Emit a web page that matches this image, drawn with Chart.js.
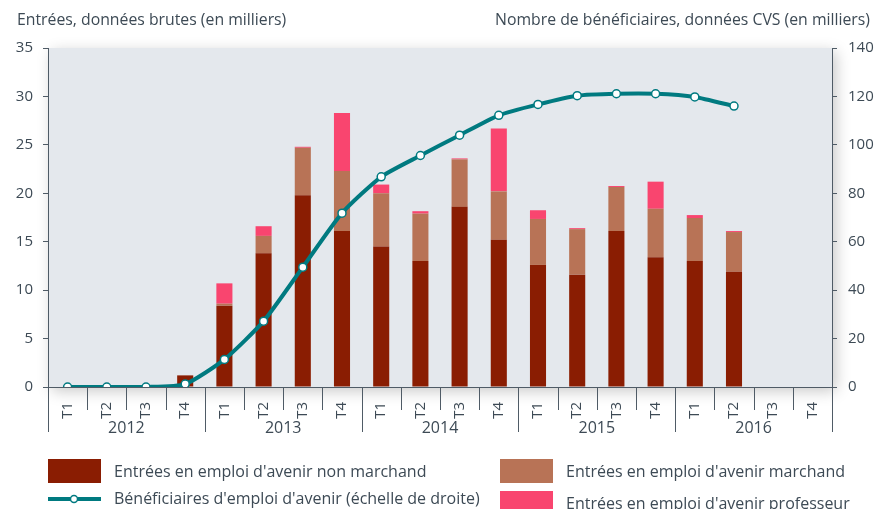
<!DOCTYPE html>
<html>
<head>
<meta charset="utf-8">
<script src="https://cdn.jsdelivr.net/npm/chart.js@4"></script>
<style>
  html, body { margin: 0; padding: 0; background: #fff; }
  #wrap { width: 885px; height: 509px; position: relative; }
</style>
</head>
<body>
<div id="wrap"><canvas id="chart" width="885" height="509"></canvas></div>
<script>
// données
const quarters = ['T1', 'T2', 'T3', 'T4', 'T1', 'T2', 'T3', 'T4', 'T1', 'T2', 'T3', 'T4',
                  'T1', 'T2', 'T3', 'T4', 'T1', 'T2', 'T3', 'T4'];
const years = ['2012', '2013', '2014', '2015', '2016'];

const nonMarchand = [0, 0, 0, 1.2, 8.4, 13.8, 19.8, 16.1, 14.5, 13.0, 18.6, 15.2,
                     12.6, 11.6, 16.1, 13.4, 13.0, 11.9, null, null];
const marchand = [0, 0, 0, 0, 0.2, 1.8, 4.9, 6.2, 5.5, 4.9, 4.9, 5.0,
                  4.75, 4.7, 4.55, 5.0, 4.45, 4.1, null, null];
const professeur = [0, 0, 0, 0, 2.1, 1.0, 0.1, 6.0, 0.9, 0.25, 0.1, 6.5,
                    0.9, 0.1, 0.1, 2.8, 0.3, 0.1, null, null];
const beneficiaires = [0, 0, 0, 1.2, 11.4, 27.2, 49.5, 71.8, 86.8, 95.6, 104.0, 112.2,
                       116.7, 120.3, 121.1, 121.1, 119.8, 116.0, null, null];

const leftTitle = 'Entrées, données brutes (en milliers)';
const rightTitle = 'Nombre de bénéficiaires, données CVS (en milliers)';

const FONT = '"Open Sans", "Noto Sans", sans-serif';
const TEXT = '#3d4a55';
const AXIS = '#4f5b66';
const TEAL = '#007a80';

// fond gris + ombre de la zone de tracé
const plotBg = {
  id: 'plotBg',
  beforeDraw(chart) {
    const { ctx, chartArea: a } = chart;
    ctx.save();
    ctx.shadowColor = 'rgba(0,0,0,0.22)';
    ctx.shadowBlur = 14;
    ctx.shadowOffsetX = 4;
    ctx.shadowOffsetY = 4;
    ctx.fillStyle = '#e4e8ed';
    ctx.fillRect(a.left, a.top, a.right - a.left, a.bottom - a.top);
    ctx.restore();
  }
};

// séparateurs trimestres / années, libellés des années, titres, légende
const decor = {
  id: 'decor',
  afterDraw(chart) {
    const { ctx, chartArea: a } = chart;
    const x = chart.scales.x;
    const step = x.getPixelForValue(1) - x.getPixelForValue(0);
    ctx.save();
    ctx.strokeStyle = AXIS;
    ctx.lineWidth = 1;
    for (let i = 0; i <= quarters.length; i++) {
      const px = Math.round(x.getPixelForValue(i) - step / 2) + 0.5;
      const yearEdge = i % 4 === 0;
      ctx.beginPath();
      ctx.moveTo(px, a.bottom);
      ctx.lineTo(px, yearEdge ? a.bottom + 45 : a.bottom + 23);
      ctx.stroke();
    }
    ctx.fillStyle = TEXT;
    ctx.font = '16px ' + FONT;
    ctx.textAlign = 'center';
    ctx.textBaseline = 'middle';
    years.forEach((y, k) => {
      const cx = (x.getPixelForValue(k * 4) + x.getPixelForValue(k * 4 + 3)) / 2;
      ctx.fillText(y, cx, 428);
    });

    // titres des axes
    ctx.font = '15.8px ' + FONT;
    ctx.textAlign = 'left';
    ctx.fillText(leftTitle, 17, 20);
    ctx.textAlign = 'right';
    ctx.fillText(rightTitle, 870, 20);

    // légende
    const ds = chart.data.datasets;
    ctx.textAlign = 'left';
    ctx.font = '16px ' + FONT;
    const items = [
      { d: ds[1], x: 48, y: 459, kind: 'box' },
      { d: ds[0], x: 48, y: 487, kind: 'line' },
      { d: ds[2], x: 500, y: 459, kind: 'box' },
      { d: ds[3], x: 500, y: 491, kind: 'box' }
    ];
    items.forEach(it => {
      if (it.kind === 'box') {
        ctx.fillStyle = it.d.backgroundColor;
        ctx.fillRect(it.x, it.y, 53, 24);
        ctx.fillStyle = TEXT;
        ctx.fillText(it.d.label, it.x + 66, it.y + 13);
      } else {
        ctx.strokeStyle = TEAL;
        ctx.lineWidth = 4;
        ctx.beginPath();
        ctx.moveTo(it.x, it.y + 12);
        ctx.lineTo(it.x + 53, it.y + 12);
        ctx.stroke();
        ctx.fillStyle = '#fff';
        ctx.lineWidth = 1.5;
        ctx.beginPath();
        ctx.arc(it.x + 26, it.y + 12, 3.5, 0, Math.PI * 2);
        ctx.fill();
        ctx.stroke();
        ctx.fillStyle = TEXT;
        ctx.fillText(it.d.label, it.x + 66, it.y + 12);
      }
    });
    ctx.restore();
  }
};

new Chart(document.getElementById('chart'), {
  type: 'bar',
  data: {
    labels: quarters,
    datasets: [
      {
        type: 'line',
        label: "Bénéficiaires d'emploi d'avenir (échelle de droite)",
        data: beneficiaires,
        yAxisID: 'y1',
        borderColor: TEAL,
        borderWidth: 4,
        tension: 0.2,
        pointRadius: 4,
        pointBorderWidth: 1.5,
        pointBackgroundColor: '#fff',
        pointBorderColor: TEAL,
        order: 0
      },
      {
        label: "Entrées en emploi d'avenir non marchand",
        data: nonMarchand,
        backgroundColor: '#8a1d02',
        stack: 's',
        order: 1
      },
      {
        label: "Entrées en emploi d'avenir marchand",
        data: marchand,
        backgroundColor: '#b87356',
        stack: 's',
        order: 1
      },
      {
        label: "Entrées en emploi d'avenir professeur",
        data: professeur,
        backgroundColor: '#f9456f',
        stack: 's',
        order: 1
      }
    ]
  },
  options: {
    responsive: false,
    animation: false,
    devicePixelRatio: 1,
    layout: { padding: { top: 48, bottom: 77, left: 0, right: 0 } },
    datasets: { bar: { barPercentage: 0.41, categoryPercentage: 1 } },
    plugins: { legend: { display: false }, tooltip: { enabled: false } },
    scales: {
      x: {
        stacked: true,
        afterFit: s => { s.height = 45; },
        grid: { display: false },
        border: { display: true, color: AXIS, width: 1 },
        ticks: {
          autoSkip: false, maxRotation: 90, minRotation: 90, padding: 7,
          color: TEXT, font: { family: FONT, size: 15 }
        }
      },
      y: {
        stacked: true,
        position: 'left',
        min: 0, max: 35,
        afterFit: s => { s.width = 48; },
        grid: { drawOnChartArea: false, drawTicks: true, tickLength: 5, color: AXIS },
        border: { display: true, color: AXIS, width: 1 },
        ticks: { stepSize: 5, padding: 10, color: TEXT, font: { family: FONT, size: 15 } }
      },
      y1: {
        position: 'right',
        min: 0, max: 140,
        afterFit: s => { s.width = 53; },
        grid: { drawOnChartArea: false, drawTicks: true, tickLength: 5, color: AXIS },
        border: { display: true, color: AXIS, width: 1 },
        ticks: { stepSize: 20, padding: 11, color: TEXT, font: { family: FONT, size: 15 } }
      }
    }
  },
  plugins: [plotBg, decor]
});
</script>
</body>
</html>
